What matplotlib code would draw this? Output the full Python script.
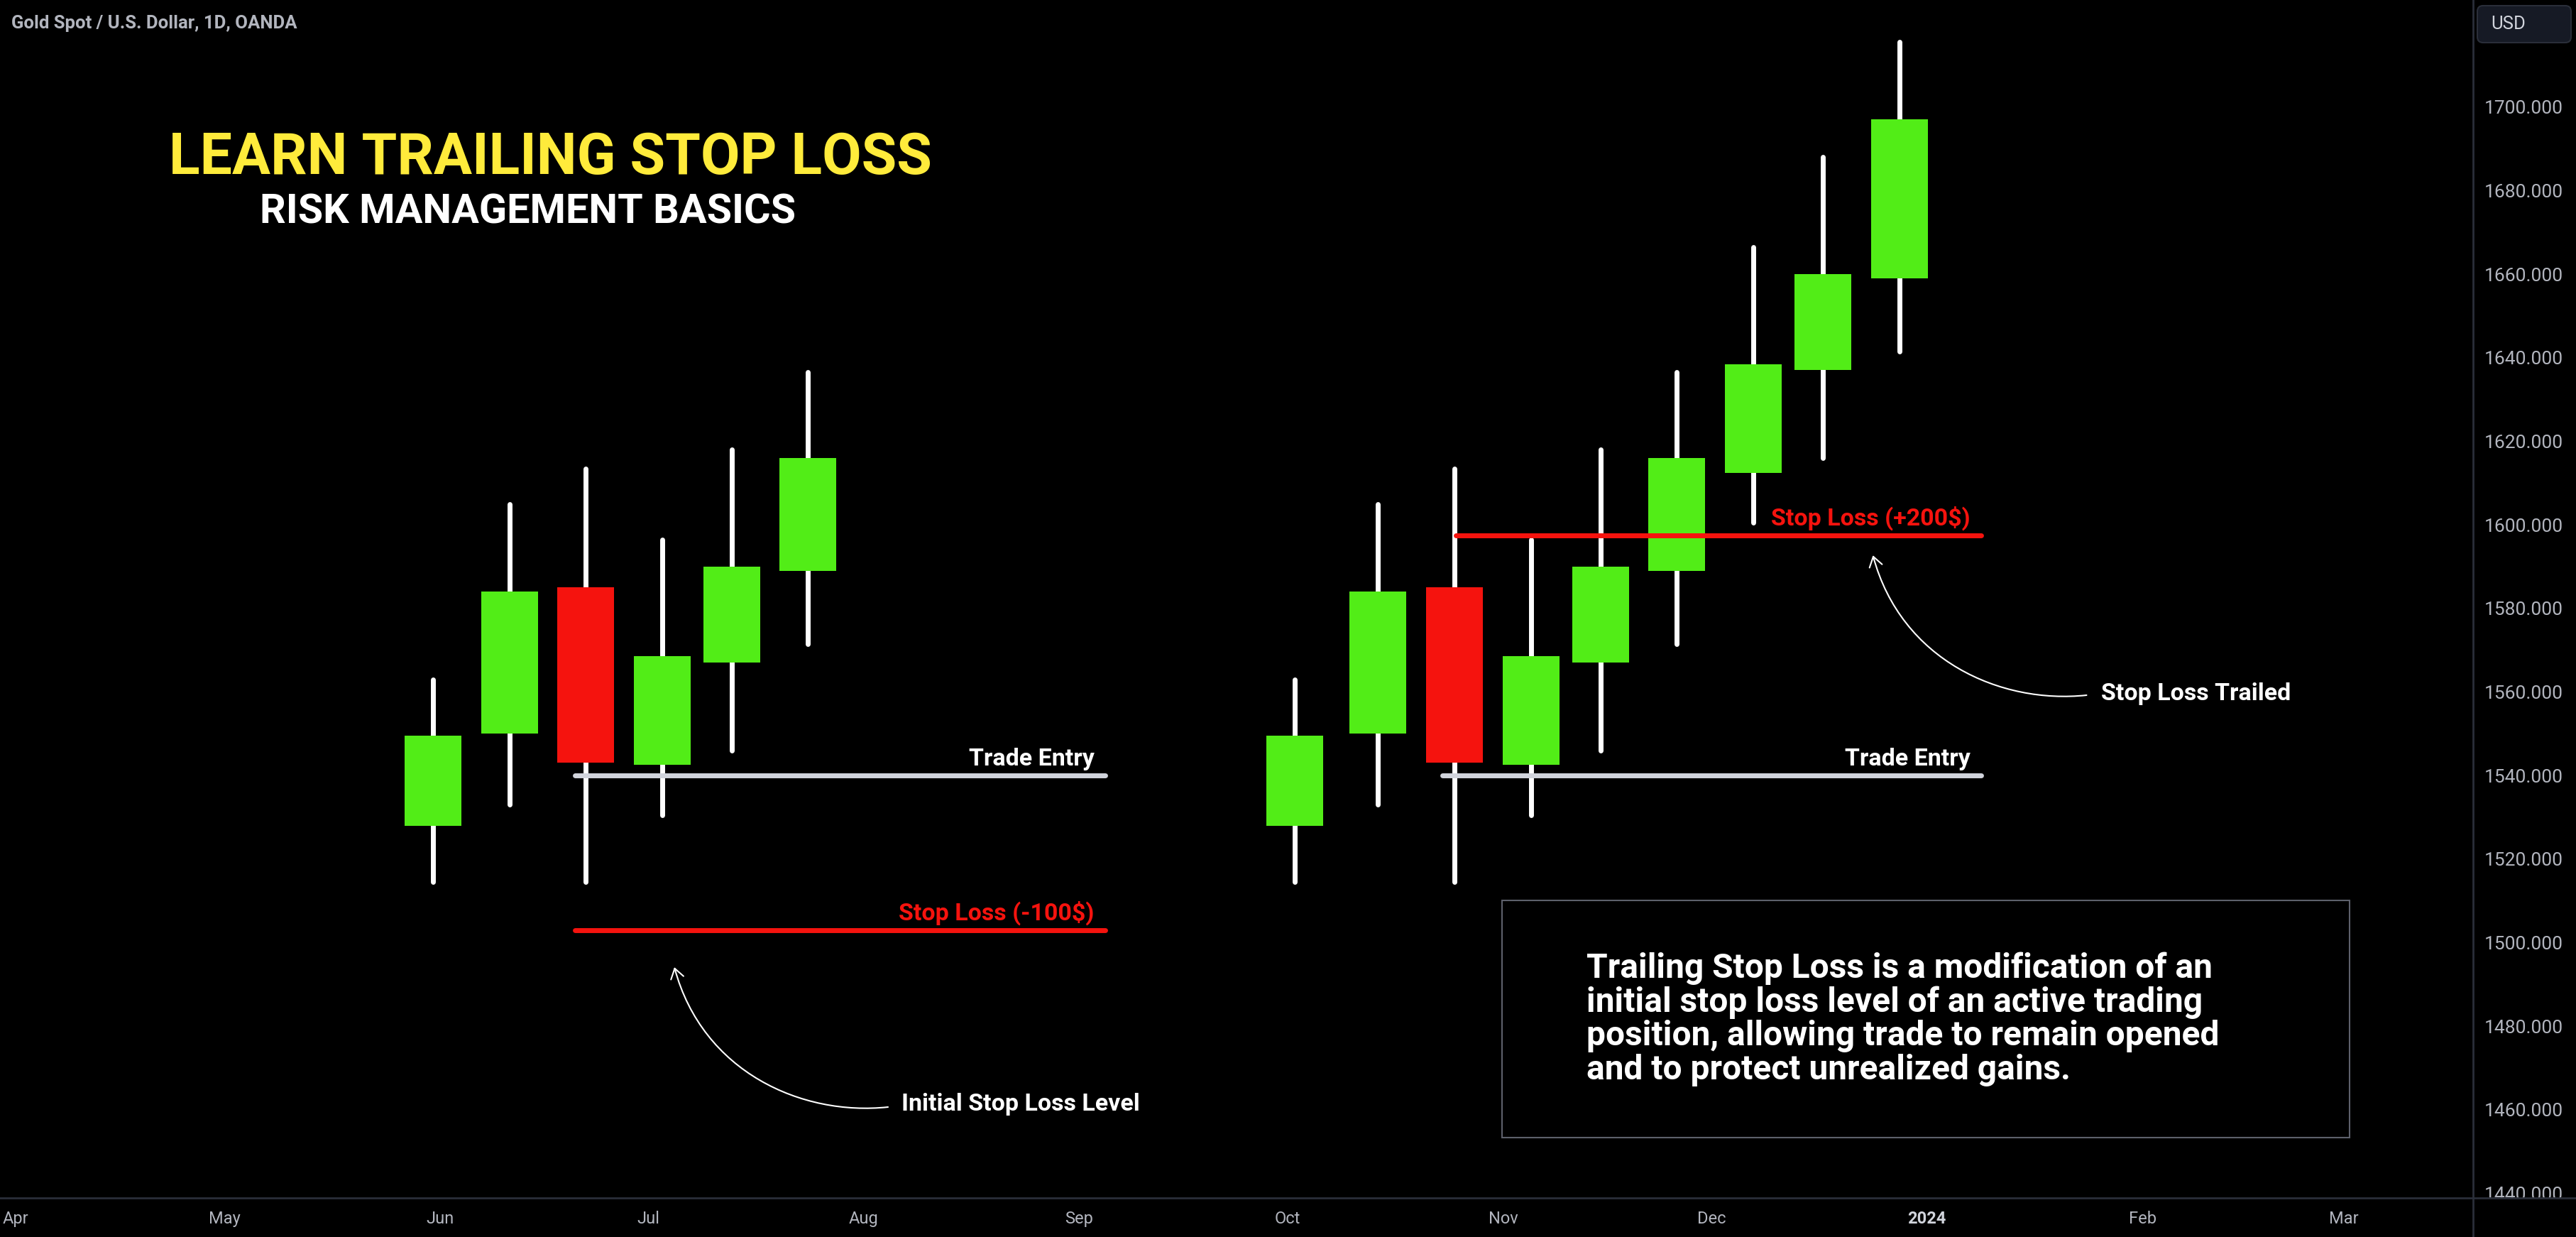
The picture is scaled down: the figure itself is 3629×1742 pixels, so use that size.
import numpy as np
import pandas as pd
import matplotlib
matplotlib.use("Agg")
import matplotlib.pyplot as plt
import matplotlib.dates as mdates
from matplotlib.path import Path
from matplotlib.patches import FancyArrowPatch, Rectangle, FancyBboxPatch
from matplotlib.lines import Line2D
from matplotlib.ticker import FixedLocator, FuncFormatter
from matplotlib.transforms import Affine2D, Bbox, TransformedBbox, IdentityTransform

W, H = 3630, 1742
BG = "#000000"
GREEN = "#52ed17"
RED = "#f5130e"
ENTRY = "#d1d4dc"
AXIS_TXT = "#b2b5be"
SEP = "#2a2e39"
FONT = "Roboto"

# candles, left setup (initial stop)
left_dates = ["2023-05-31", "2023-06-11", "2023-06-22", "2023-07-03", "2023-07-13", "2023-07-24"]
left_open = [1528.0, 1550.0, 1585.0, 1542.5, 1567.0, 1589.0]
left_high = [1563.0, 1605.0, 1613.5, 1596.5, 1618.0, 1636.5]
left_low = [1514.5, 1533.0, 1514.5, 1530.5, 1546.0, 1571.5]
left_close = [1549.5, 1584.0, 1543.0, 1568.5, 1590.0, 1616.0]

# candles, right setup (trailed stop)
right_dates = ["2023-10-02", "2023-10-14", "2023-10-25", "2023-11-05", "2023-11-15",
               "2023-11-26", "2023-12-07", "2023-12-17", "2023-12-28"]
right_open = [1528.0, 1550.0, 1585.0, 1542.5, 1567.0, 1589.0, 1612.5, 1637.0, 1659.0]
right_high = [1563.0, 1605.0, 1613.5, 1596.5, 1618.0, 1636.5, 1666.5, 1688.0, 1715.5]
right_low = [1514.5, 1533.0, 1514.5, 1530.5, 1546.0, 1571.5, 1600.5, 1616.0, 1641.5]
right_close = [1549.5, 1584.0, 1543.0, 1568.5, 1590.0, 1616.0, 1638.5, 1660.0, 1697.0]

# horizontal levels
entry_price = 1540.0
stop_initial = 1503.0
stop_trailed = 1597.5
left_line_start = "2023-06-20 10:00"
left_line_end = "2023-09-04 17:00"
right_entry_start = "2023-10-23 07:00"
right_stop_start = "2023-10-25 05:00"
right_line_end = "2024-01-08 19:00"

price_ticks = list(range(1440, 1701, 20))
x_range = ["2023-03-29 17:00", "2024-03-19 14:00"]
y_range = (1438.9, 1725.6)

box_lines = ["Trailing Stop Loss is a modification of an",
             "initial stop loss level of an active trading",
             "position, allowing trade to remain opened",
             "and to protect unrealized gains."]

plt.rcParams['font.family'] = [FONT, 'DejaVu Sans']

fig = plt.figure(figsize=(W / 100, H / 100), dpi=100, facecolor=BG)
axis_y = 1687   # time axis line, px from top
axis_x = 3484   # price axis line, px from left
ax = fig.add_axes([0, (H - axis_y) / H, axis_x / W, axis_y / H])
ax.set_facecolor(BG)
for s in ax.spines.values():
    s.set_visible(False)

# pixel transform, origin at top left
pix = Affine2D().scale(1, -1).translate(0, H)


def num(d):
    return mdates.date2num(pd.to_datetime(d))


def candles(dates, o, h, l, c):
    x = mdates.date2num(pd.to_datetime(dates))
    o = np.array(o)
    c = np.array(c)
    cols = [GREEN if cc >= oo else RED for oo, cc in zip(o, c)]
    ax.vlines(x, l, h, color="white", lw=5.0, capstyle="round", zorder=2)
    ax.bar(x, c - o, bottom=o, width=8.17, color=cols, zorder=3, linewidth=0)


candles(left_dates, left_open, left_high, left_low, left_close)
candles(right_dates, right_open, right_high, right_low, right_close)

# levels
ax.hlines(entry_price, num(left_line_start), num(left_line_end), color=ENTRY, lw=5, capstyle="round", zorder=4)
ax.hlines(stop_initial, num(left_line_start), num(left_line_end), color=RED, lw=5, capstyle="round", zorder=4)
ax.hlines(entry_price, num(right_entry_start), num(right_line_end), color=ENTRY, lw=5, capstyle="round", zorder=4)
ax.hlines(stop_trailed, num(right_stop_start), num(right_line_end), color=RED, lw=5, capstyle="round", zorder=4)

lbl = dict(textcoords="offset pixels", xytext=(-15, 14), ha="right", va="baseline",
           fontsize=24.5, fontweight="bold", zorder=5)
ax.annotate("Trade Entry", (num(left_line_end), entry_price), color="white", **lbl)
ax.annotate("Stop Loss (-100$)", (num(left_line_end), stop_initial), color=RED, **lbl)
ax.annotate("Trade Entry", (num(right_line_end), entry_price), color="white", **lbl)
ax.annotate("Stop Loss (+200$)", (num(right_line_end), stop_trailed), color=RED, **lbl)

ax.set_xlim(num(x_range[0]), num(x_range[1]))
ax.set_ylim(*y_range)

# time axis
ax.xaxis.set_major_locator(mdates.MonthLocator())
ax.xaxis.set_major_formatter(FuncFormatter(
    lambda v, p: mdates.num2date(v).strftime("%Y") if mdates.num2date(v).month == 1
    else mdates.num2date(v).strftime("%b")))
ax.tick_params(axis="x", length=0, pad=13, labelsize=17, labelcolor=AXIS_TXT)

# price axis
ax.yaxis.tick_right()
ax.yaxis.set_major_locator(FixedLocator(price_ticks))
ax.yaxis.set_major_formatter(FuncFormatter(lambda v, p: "%.3f" % v))
ax.tick_params(axis="y", length=0, pad=11.5, labelsize=19, labelcolor=AXIS_TXT)
clip = TransformedBbox(Bbox.from_extents(0, H - axis_y, W, H), IdentityTransform())
for t in ax.yaxis.get_major_ticks():
    t.label2.set_clip_box(clip)
    t.label2.set_clip_on(True)

# separators
fig.add_artist(Line2D([axis_x, axis_x], [0, H], transform=pix, color=SEP, lw=2))
fig.add_artist(Line2D([0, W], [axis_y, axis_y], transform=pix, color=SEP, lw=2))

# header
fig.text(16, 40, "Gold Spot / U.S. Dollar, 1D, OANDA", transform=pix, color=AXIS_TXT,
         fontsize=18.5, fontweight="semibold", va="baseline")
fig.add_artist(FancyBboxPatch((3490, 8), 132, 52, boxstyle="round,pad=0,rounding_size=8",
                              transform=pix, facecolor="#161a25", edgecolor=SEP, lw=1.5))
fig.text(3509, 34, "USD", transform=pix, color=ENTRY, fontsize=18.5, va="center")

# titles
fig.text(775.5, 245, "LEARN TRAILING STOP LOSS", transform=pix, color="#ffeb3b",
         fontsize=58, fontweight="bold", ha="center", va="baseline")
fig.text(744, 314, "RISK MANAGEMENT BASICS", transform=pix, color="white",
         fontsize=41.5, fontweight="bold", ha="center", va="baseline")

# curved arrows
arrow_shape = [(1251, 1559), (1130, 1572), (990, 1510), (950, 1362)]
for dx, dy in [(0, 0), (1688.5, -580)]:
    verts = [(x + dx, y + dy) for x, y in arrow_shape]
    path = Path(verts, [Path.MOVETO, Path.CURVE4, Path.CURVE4, Path.CURVE4])
    fig.add_artist(FancyArrowPatch(path=path, arrowstyle="->,head_length=0.45,head_width=0.3",
                                   mutation_scale=22, color="white", lw=1.5, transform=pix))
fig.text(1270.5, 1564, "Initial Stop Loss Level", transform=pix, color="white",
         fontsize=24.5, fontweight="bold", va="baseline")
fig.text(2960, 986, "Stop Loss Trailed", transform=pix, color="white",
         fontsize=24.5, fontweight="bold", va="baseline")

# explanation box
fig.add_artist(Rectangle((2116, 1268), 1194, 334, transform=pix, facecolor="none",
                         edgecolor="#5d606b", lw=1.5))
for i, line in enumerate(box_lines):
    fig.text(2235, 1377 + i * 47.5, line, transform=pix, color="white",
             fontsize=34.5, fontweight="bold", va="baseline")

fig.canvas.draw()
for t in ax.get_xticklabels():
    if t.get_text() == "2024":
        t.set_fontweight("bold")
        t.set_color(ENTRY)

fig.savefig("out.png", dpi=100, facecolor=BG)
